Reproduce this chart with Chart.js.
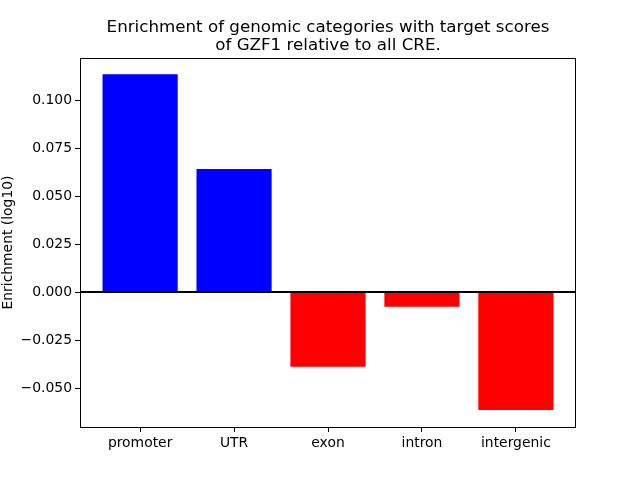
<!DOCTYPE html>
<html>
<head>
<meta charset="utf-8">
<script src="https://cdn.jsdelivr.net/npm/chart.js@4.4.1/dist/chart.umd.min.js"></script>
<style>
  html, body { margin: 0; padding: 0; background: #fff; }
  #wrap { width: 640px; height: 480px; }
</style>
</head>
<body>
<div id="wrap"><canvas id="barChart" width="640" height="480"></canvas></div>
<script>
// data
var categories = ['promoter', 'UTR', 'exon', 'intron', 'intergenic'];
var enrichment = [0.1135, 0.0641, -0.0389, -0.0077, -0.0615];
var yTicks = [-0.050, -0.025, 0.000, 0.025, 0.050, 0.075, 0.100];
var titleLines = ['Enrichment of genomic categories with target scores', 'of GZF1 relative to all CRE.'];

var FONT = "'DejaVu Sans', sans-serif";

// box round the axes, black line at zero, title centred on the axes
var framePlugin = {
    id: 'frame',
    afterDatasetsDraw: function (chart) {
        var ctx = chart.ctx, a = chart.chartArea;
        var y0 = chart.scales.y.getPixelForValue(0);
        ctx.save();
        ctx.strokeStyle = '#000';
        ctx.lineWidth = 2;
        ctx.beginPath();
        ctx.moveTo(a.left, y0);
        ctx.lineTo(a.right, y0);
        ctx.stroke();
        ctx.lineWidth = 1;
        ctx.strokeRect(a.left + 0.5, a.top + 0.5, a.right - a.left - 1, a.bottom - a.top);

        ctx.fillStyle = '#000';
        ctx.font = '16.7px ' + FONT;
        ctx.textAlign = 'center';
        ctx.textBaseline = 'alphabetic';
        var cx = (a.left + a.right) / 2;
        ctx.fillText(titleLines[0], cx, 32);
        ctx.fillText(titleLines[1], cx, 50);
        ctx.restore();
    }
};

var ctx = document.getElementById('barChart').getContext('2d');
var chart = new Chart(ctx, {
    type: 'bar',
    data: {
        datasets: [{
            data: enrichment.map(function (v, i) { return { x: i, y: v }; }),
            backgroundColor: enrichment.map(function (v) { return v >= 0 ? '#0000ff' : '#ff0000'; }),
            borderWidth: 0,
            barPercentage: 0.8,
            categoryPercentage: 1.0
        }]
    },
    options: {
        responsive: false,
        animation: false,
        layout: { padding: { top: 58, right: 64, left: 0, bottom: 0 } },
        plugins: {
            legend: { display: false },
            tooltip: { enabled: false },
            title: { display: false }
        },
        scales: {
            x: {
                type: 'linear',
                min: -0.64,
                max: 4.64,
                offset: false,
                afterBuildTicks: function (scale) {
                    scale.ticks = categories.map(function (c, i) { return { value: i }; });
                },
                afterFit: function (scale) { scale.height = 53; },
                grid: { display: true, offset: false, drawOnChartArea: false, tickLength: 5, color: '#000' },
                border: { display: false },
                ticks: {
                    color: '#000',
                    padding: 3,
                    font: { family: FONT, size: 13.9 },
                    maxRotation: 0,
                    callback: function (v) { return categories[v]; }
                }
            },
            y: {
                min: -0.0703,
                max: 0.1219,
                afterBuildTicks: function (scale) {
                    scale.ticks = yTicks.map(function (v) { return { value: v }; });
                },
                afterFit: function (scale) { scale.width = 80; },
                grid: { display: true, drawOnChartArea: false, tickLength: 5, color: '#000' },
                border: { display: false },
                title: {
                    display: true,
                    text: 'Enrichment (log10)',
                    color: '#000',
                    font: { family: FONT, size: 13.9 },
                    padding: { top: 0, bottom: 0 }
                },
                ticks: {
                    color: '#000',
                    padding: 3,
                    font: { family: FONT, size: 13.9 },
                    callback: function (v) {
                        var s = Math.abs(v).toFixed(3);
                        return v < -1e-9 ? '\u2212' + s : s;
                    }
                }
            }
        }
    },
    plugins: [framePlugin]
});
</script>
</body>
</html>
